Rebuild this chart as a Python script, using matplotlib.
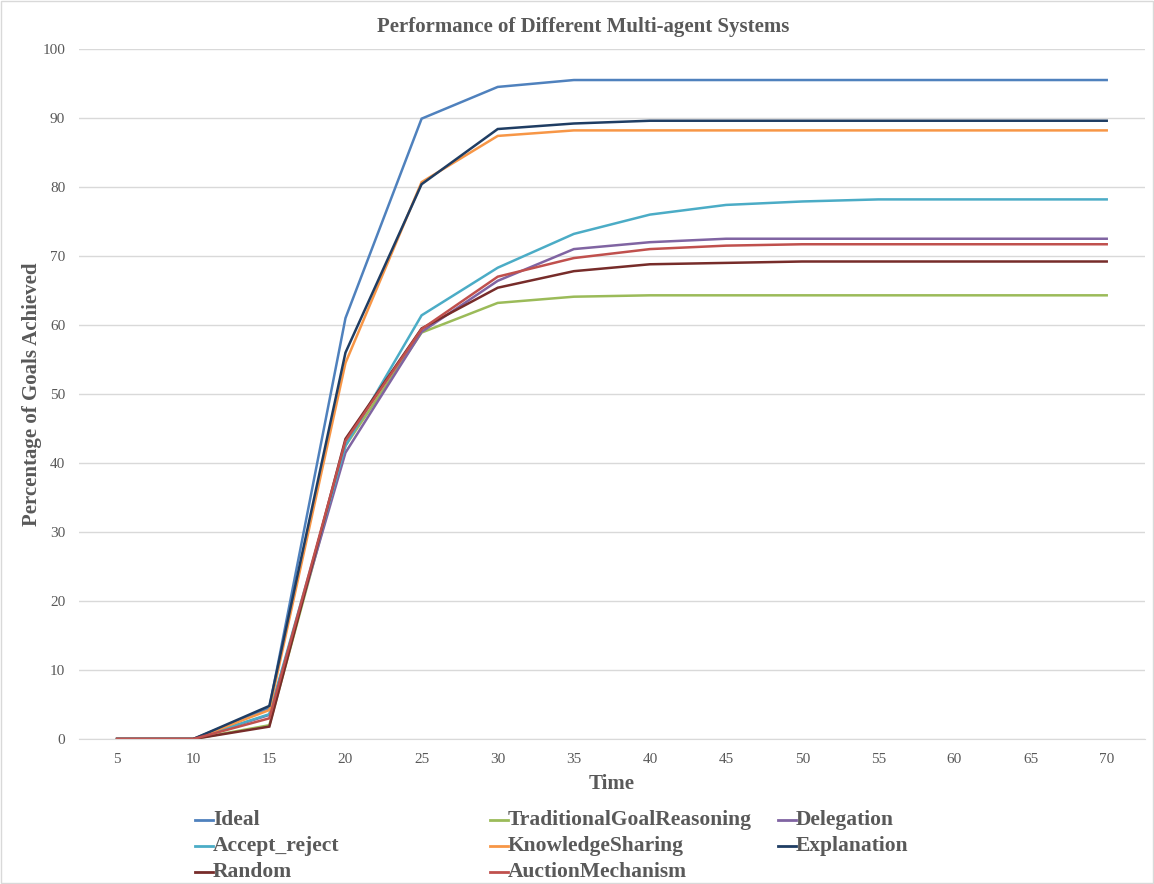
import matplotlib.pyplot as plt
from matplotlib.lines import Line2D

plt.rcParams["font.family"] = ["Liberation Serif", "DejaVu Serif"]

time = [5, 10, 15, 20, 25, 30, 35, 40, 45, 50, 55, 60, 65, 70]

ideal = [0, 0, 4.5, 61.0, 89.9, 94.5, 95.5, 95.5, 95.5, 95.5, 95.5, 95.5, 95.5, 95.5]
traditional = [0, 0, 2.0, 42.5, 58.9, 63.2, 64.1, 64.3, 64.3, 64.3, 64.3, 64.3, 64.3, 64.3]
delegation = [0, 0, 3.5, 41.5, 59.0, 66.4, 71.0, 72.0, 72.5, 72.5, 72.5, 72.5, 72.5, 72.5]
accept_reject = [0, 0, 3.6, 42.5, 61.4, 68.3, 73.2, 76.0, 77.4, 77.9, 78.2, 78.2, 78.2, 78.2]
knowledge = [0, 0, 4.2, 54.5, 80.7, 87.4, 88.2, 88.2, 88.2, 88.2, 88.2, 88.2, 88.2, 88.2]
explanation = [0, 0, 4.8, 56.0, 80.4, 88.4, 89.2, 89.6, 89.6, 89.6, 89.6, 89.6, 89.6, 89.6]
random_sys = [0, 0, 1.8, 43.5, 59.5, 65.4, 67.8, 68.8, 69.0, 69.2, 69.2, 69.2, 69.2, 69.2]
auction = [0, 0, 3.0, 43.2, 59.4, 67.0, 69.7, 71.0, 71.5, 71.7, 71.7, 71.7, 71.7, 71.7]

series = [
    ("Ideal", ideal, "#4F81BD"),
    ("TraditionalGoalReasoning", traditional, "#9BBB59"),
    ("Delegation", delegation, "#8064A2"),
    ("Accept_reject", accept_reject, "#4BACC6"),
    ("KnowledgeSharing", knowledge, "#F79646"),
    ("Explanation", explanation, "#1F3D63"),
    ("Random", random_sys, "#772C2A"),
    ("AuctionMechanism", auction, "#C0504D"),
]

grid_color = "#D9D9D9"
text_color = "#595959"

fig = plt.figure(figsize=(11.54, 8.84), dpi=100)
ax = fig.add_axes([0.0685, 0.164, 0.9235, 0.7806])

for name, vals, color in series:
    ax.plot(time, vals, color=color, lw=1.8, label=name, solid_joinstyle="miter")

ax.set_xlim(2.5, 72.5)
ax.set_ylim(0, 100)
ax.set_xticks(time)
ax.set_yticks(range(0, 101, 10))
ax.tick_params(length=0, labelsize=11, colors=text_color, pad=10)
ax.grid(axis="y", color=grid_color, lw=1)
ax.set_axisbelow(True)
for side in ["top", "right", "left"]:
    ax.spines[side].set_visible(False)
ax.spines["bottom"].set_color(grid_color)

ax.set_xlabel("Time", fontsize=15, fontweight="bold", color=text_color, labelpad=6)
ax.set_ylabel("Percentage of Goals Achieved", fontsize=15, fontweight="bold",
              color=text_color, labelpad=0)
fig.text(0.505, 0.969, "Performance of Different Multi-agent Systems", ha="center",
         va="center", fontsize=15, fontweight="bold", color=text_color)

# legend laid out in three columns, filled row by row
col_x = [0.169, 0.4246, 0.674]
row_y = [0.0724, 0.0430, 0.0136]
for i, (name, _, color) in enumerate(series):
    x0 = col_x[i % 3]
    y0 = row_y[i // 3]
    fig.add_artist(Line2D([x0, x0 + 0.0155], [y0, y0], color=color, lw=2,
                          transform=fig.transFigure))
    fig.text(x0 + 0.0157, y0, name, ha="left", va="center", fontsize=15.5,
             fontweight="bold", color=text_color)

# thin frame around the chart area
fig.add_artist(plt.Rectangle((0.001, 0.001), 0.998, 0.998, fill=False,
                             edgecolor=grid_color, lw=1, transform=fig.transFigure))

fig.savefig("out.png", dpi=100)
